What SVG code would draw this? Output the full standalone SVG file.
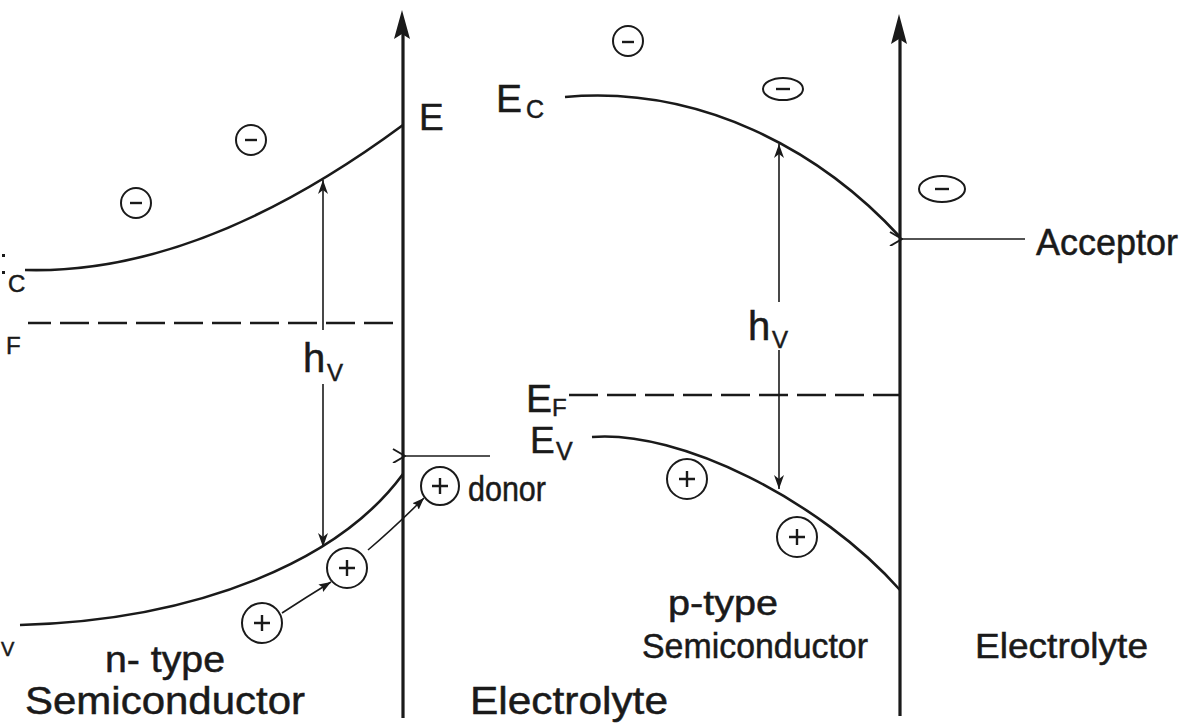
<svg xmlns="http://www.w3.org/2000/svg" width="1191" height="725" viewBox="0 0 1191 725">
<defs>
<style>
.txt{font-family:"Liberation Sans",Arial,sans-serif;fill:#1a1a1a;stroke:#1a1a1a;stroke-width:0.5}
.band{fill:none;stroke:#1a1a1a;stroke-width:2.6}
.dash{fill:none;stroke:#1a1a1a;stroke-width:2.6;stroke-dasharray:29 9}
.axis{fill:none;stroke:#1a1a1a;stroke-width:3.2}
.thin{fill:none;stroke:#1a1a1a;stroke-width:1.6}
.chg{fill:none;stroke:#1a1a1a;stroke-width:2}
.sign{fill:none;stroke:#1a1a1a;stroke-width:2.4}
.head{fill:#1a1a1a}
</style>
<marker id="barb" markerUnits="userSpaceOnUse" markerWidth="16" markerHeight="12" refX="14" refY="5" orient="auto">
<path d="M0,0 L14,5 L0,10 L4,5 Z" fill="#1a1a1a"/>
</marker>
<marker id="tri" markerUnits="userSpaceOnUse" markerWidth="14" markerHeight="10" refX="12" refY="4.5" orient="auto">
<path d="M0,0 L12,4.5 L0,9 L2,4.5 Z" fill="#1a1a1a"/>
</marker>
<marker id="open" markerUnits="userSpaceOnUse" markerWidth="16" markerHeight="16" refX="1" refY="7" orient="auto">
<path d="M13,0 L1,7 L13,14" fill="none" stroke="#1a1a1a" stroke-width="2"/>
</marker>
</defs>
<rect width="1191" height="725" fill="#ffffff"/>

<g id="axes">
<line class="axis" x1="403" y1="30" x2="403" y2="718"/>
<path class="head" d="M402,10 L410,39 L402,34 L394,39 Z"/>
<line class="axis" x1="900" y1="35" x2="900" y2="716"/>
<path class="head" d="M899,14 L907,44 L899,39 L891,44 Z"/>
</g>

<g id="n-side">
<rect x="2" y="254" width="3" height="3" fill="#1a1a1a"/>
<rect x="2" y="271" width="3" height="3" fill="#1a1a1a"/>
<text class="txt" x="8" y="292" font-size="24">C</text>
<text class="txt" x="6" y="354" font-size="24">F</text>
<text class="txt" x="1" y="656" font-size="20">V</text>
<path id="n-Ec" class="band" d="M25,270 Q200,275 403,125"/>
<line id="n-Ef" class="dash" x1="28" y1="323" x2="403" y2="323" style="stroke-dashoffset:6"/>
<path id="n-Ev" class="band" d="M20,625 C200,620 340,560 403,474"/>
<text class="txt" x="419" y="130" font-size="37">E</text>
</g>

<g id="p-side">
<text class="txt" x="496" y="112" font-size="39">E</text>
<text class="txt" x="526" y="118" font-size="25">C</text>
<path id="p-Ec" class="band" d="M565,97 C700,85 820,150 900,237"/>
<text class="txt" x="526" y="412" font-size="39">E</text>
<text class="txt" x="552" y="416" font-size="24">F</text>
<line id="p-Ef" class="dash" x1="569" y1="395" x2="900" y2="395"/>
<text class="txt" x="530" y="453" font-size="37">E</text>
<text class="txt" x="556" y="460" font-size="25">V</text>
<path id="p-Ev" class="band" d="M592,437 C680,430 820,500 900,590"/>
</g>

<g id="charges">
<circle class="chg" cx="136" cy="203" r="15"/><line class="sign" x1="130" y1="203" x2="142" y2="203"/>
<circle class="chg" cx="251" cy="140" r="15"/><line class="sign" x1="245" y1="140" x2="257" y2="140"/>
<circle class="chg" cx="628" cy="41" r="15"/><line class="sign" x1="622" y1="42" x2="634" y2="42"/>
<ellipse class="chg" cx="783" cy="89" rx="20" ry="11"/><line class="sign" x1="776" y1="89" x2="790" y2="89"/>
<ellipse class="chg" cx="942" cy="189" rx="23" ry="13"/><line class="sign" x1="935" y1="189" x2="949" y2="189"/>
<circle class="chg" cx="262" cy="623" r="20"/><path class="sign" d="M254,623 H270 M262,615 V631"/>
<circle class="chg" cx="347" cy="568" r="20"/><path class="sign" d="M339,568 H355 M347,560 V576"/>
<circle class="chg" cx="440" cy="486" r="19"/><path class="sign" d="M432,486 H448 M440,478 V494"/>
<circle class="chg" cx="687" cy="479" r="20"/><path class="sign" d="M679,479 H695 M687,471 V487"/>
<circle class="chg" cx="797" cy="537" r="20"/><path class="sign" d="M789,537 H805 M797,529 V545"/>
</g>

<g id="connectors">
<line class="thin" x1="323" y1="330" x2="323" y2="180" marker-end="url(#barb)"/>
<line class="thin" x1="323" y1="384" x2="323" y2="547" marker-end="url(#barb)"/>
<line class="thin" x1="779" y1="302" x2="779" y2="144" marker-end="url(#barb)"/>
<line class="thin" x1="779" y1="350" x2="779" y2="489" marker-end="url(#barb)"/>
<path class="thin" d="M282,613 Q305,598 331,582" marker-end="url(#tri)"/>
<path class="thin" d="M368,550 Q395,527 424,498" marker-end="url(#tri)"/>
<line class="thin" x1="1025" y1="239" x2="902" y2="239" marker-end="url(#open)"/>
<line class="thin" x1="490" y1="456" x2="405" y2="456" marker-end="url(#open)"/>
</g>

<g id="labels">
<text class="txt" x="303" y="372" font-size="40">h</text>
<text class="txt" x="327" y="381" font-size="24">V</text>
<text class="txt" x="748" y="340" font-size="40">h</text>
<text class="txt" x="772" y="348" font-size="24">V</text>
<text class="txt" x="1036" y="255" font-size="36" textLength="142" lengthAdjust="spacingAndGlyphs">Acceptor</text>
<text class="txt" x="468" y="501" font-size="35" textLength="78" lengthAdjust="spacingAndGlyphs">donor</text>
<text class="txt" x="105" y="672" font-size="36" textLength="120" lengthAdjust="spacingAndGlyphs">n- type</text>
<text class="txt" x="25" y="714" font-size="38" textLength="280" lengthAdjust="spacingAndGlyphs">Semiconductor</text>
<text class="txt" x="470" y="714" font-size="38" textLength="198" lengthAdjust="spacingAndGlyphs">Electrolyte</text>
<text class="txt" x="668" y="615" font-size="35" textLength="110" lengthAdjust="spacingAndGlyphs">p-type</text>
<text class="txt" x="642" y="658" font-size="35" textLength="226" lengthAdjust="spacingAndGlyphs">Semiconductor</text>
<text class="txt" x="975" y="658" font-size="35" textLength="173" lengthAdjust="spacingAndGlyphs">Electrolyte</text>
</g>
</svg>
